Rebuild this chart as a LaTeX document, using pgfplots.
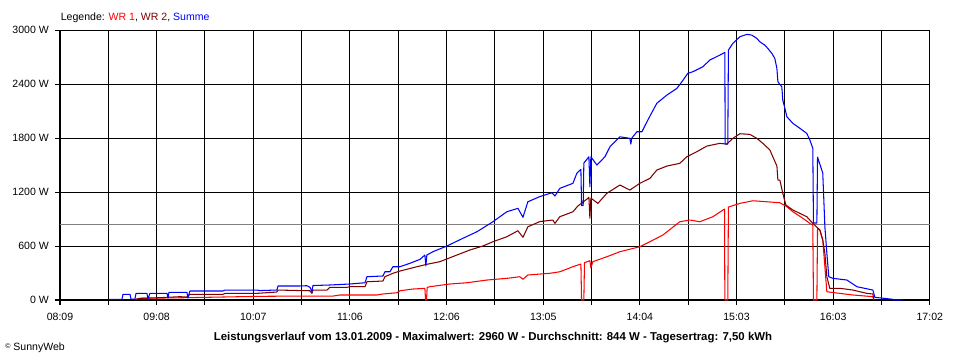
\documentclass[border=0pt]{standalone}
\usepackage{fontspec}
\setmainfont{Liberation Sans}
\usepackage{pgfplots}
\pgfplotsset{compat=1.18}
\definecolor{wrdark}{RGB}{128,0,0}
\definecolor{wrred}{RGB}{255,0,0}
\definecolor{wrblue}{RGB}{0,0,255}
\definecolor{avggray}{RGB}{128,128,128}
\begin{document}
\begin{tikzpicture}[x=0.02cm,y=0.02cm]
\path[use as bounding box] (0,0) rectangle (960,360);
\begin{axis}[
  at={(1.2cm,1.2cm)}, anchor=south west,
  scale only axis, width=17.4cm, height=5.4cm,
  xmin=0, xmax=533, ymin=0, ymax=3000,
  xtick={0,29.61,59.22,88.83,118.44,148.06,177.67,207.28,236.89,266.5,296.11,325.72,355.33,384.94,414.56,444.17,473.78,503.39,533},
  xticklabels={08:09,,09:08,,10:07,,11:06,,12:06,,13:05,,14:04,,15:03,,16:03,,17:02},
  ytick={0,600,1200,1800,2400,3000},
  yticklabels={0 W,600 W,1200 W,1800 W,2400 W,3000 W},
  tick align=outside, xtick pos=bottom, ytick pos=left,
  major tick length=0.1cm,
  tick style={black, line width=0.6pt},
  grid=major, grid style={black, line width=0.6pt},
  axis line style={black, line width=0.6pt},
  tick label style={font=\fontsize{6}{7}\selectfont},
  xticklabel style={yshift=-1pt},
  every axis plot/.append style={line width=0.6pt, no marks, line join=round},
]
\addplot[avggray] coordinates {(0,844) (533,844)};
% WR 1
\addplot[wrred] coordinates {
(45.9,5) (49.0,19) (77.8,26) (122.5,41) (147.0,44) (167.3,44) (171.5,56) (194.2,56)
(197.9,67) (206.5,81) (208.3,103) (216.3,122) (223.6,130) (224.0,0) (224.6,0) (225.0,140)
(226.7,148) (238.9,178) (249.3,192) (261.6,222) (273.8,241) (281.8,259) (283.7,230) (286.7,278)
(300.2,297) (306.3,314) (314.3,370) (319.2,400) (319.6,0) (321.0,0) (321.4,415) (324.7,437)
(325.3,356) (326.5,426) (335.1,481) (343.1,537) (355.3,592) (361.5,648) (369.4,722) (379.8,870)
(386.0,889) (392.1,870) (400.1,926) (406.2,1000) (407.2,1010) (407.4,0) (409.2,0) (409.6,1033)
(416.6,1074) (424.6,1103) (433.1,1092) (441.1,1081) (445.4,1037) (449.1,981) (455.2,908)
(459.5,852) (461.3,833) (461.7,0) (463.8,0) (464.2,800) (465.6,778) (467.4,667) (468.7,370)
(469.9,92) (477.9,74) (485.8,56) (498.1,37) (498.7,0)
};
% WR 2
\addplot[wrdark] coordinates {
(45.9,5) (49.0,19) (61.3,26) (73.5,37) (77.8,33) (79.6,63) (99.9,63) (101.1,74) (120.7,74)
(132.9,89) (133.6,111) (147.0,105) (153.2,103) (154.4,74) (155.0,111) (163.6,111) (165.4,141)
(175.8,141) (177.7,148) (186.9,148) (188.1,203) (197.9,211) (199.1,259) (204.0,297) (208.3,322)
(218.7,370) (224.8,397) (232.8,426) (243.2,500) (251.2,556) (259.1,600) (265.3,648) (273.8,703)
(280.6,770) (283.7,697) (286.7,814) (294.1,872) (302.0,889) (303.3,852) (306.3,926) (314.3,981)
(317.3,1044) (323.5,1130) (324.1,1144) (324.7,908) (325.3,1133) (329.6,1074) (335.1,1186)
(343.1,1278) (349.2,1222) (355.3,1297) (361.5,1352) (365.7,1444) (371.9,1489) (379.8,1519)
(384.1,1592) (390.2,1648) (396.4,1711) (404.3,1741) (408.6,1733) (412.3,1797) (416.6,1848)
(422.7,1841) (427.0,1797) (430.7,1741) (435.0,1667) (436.8,1592) (439.3,1489) (439.9,1333)
(441.1,1333) (442.9,1186) (444.8,1056) (449.1,1000) (457.6,926) (461.3,852) (465.6,778)
(467.4,667) (468.7,519) (469.9,259) (471.7,130) (477.9,130) (485.8,111) (494.4,74) (498.1,67)
(498.7,5)
};
% Summe
\addplot[wrblue] coordinates {
(30.0,8) (38.0,8) (38.6,63) (42.9,63) (43.5,11) (45.9,11) (46.6,74) (53.3,74) (53.9,11)
(55.1,74) (65.6,74) (66.2,22) (66.8,86) (77.8,86) (78.4,22) (79.6,100) (99.9,100) (101.1,111)
(120.7,111) (122.5,105) (132.9,111) (133.6,156) (147.0,156) (151.3,159) (153.2,141) (154.4,92)
(155.0,161) (165.4,167) (177.7,178) (186.9,192) (188.1,259) (197.9,267) (199.1,314) (202.2,314)
(204.0,370) (208.3,370) (214.4,408) (220.6,452) (223.6,500) (224.2,378) (224.8,500) (228.5,537)
(237.1,600) (246.9,686) (255.5,759) (265.3,870) (273.8,981) (280.6,1019) (283.7,919) (286.7,1092)
(294.1,1150) (301.4,1192) (303.3,1156) (306.3,1241) (314.3,1297) (316.7,1408) (319.2,1452)
(319.6,1050) (320.6,1050) (321.0,1522) (324.1,1592) (324.7,1259) (325.3,1592) (329.0,1500)
(332.0,1556) (333.9,1592) (337.0,1703) (343.1,1814) (349.2,1797) (349.8,1733) (350.4,1800)
(353.5,1870) (356.6,1870) (360.2,2000) (365.7,2186) (371.9,2278) (378.0,2352) (381.1,2426)
(384.7,2519) (387.8,2537) (393.9,2592) (398.2,2667) (404.3,2722) (407.4,2752) (407.6,1733)
(409.2,1733) (409.6,2778) (412.3,2852) (416.6,2926) (420.9,2952) (423.9,2944) (427.0,2908)
(428.8,2870) (431.9,2833) (433.7,2797) (436.2,2741) (438.0,2686) (439.3,2574) (439.9,2426)
(442.3,2370) (442.9,2222) (444.2,2130) (445.4,2037) (449.1,1963) (453.4,1908) (457.6,1852)
(459.5,1778) (461.3,1686) (461.7,856) (463.8,856) (464.2,1589) (467.4,1411) (468.7,814)
(469.9,522) (471.1,259) (473.6,241) (482.2,222) (488.3,148) (498.1,111) (499.3,30) (510.3,8)
(510.9,0) (515.0,0) (515.8,8) (516.4,0)
};
\end{axis}
\node[anchor=base west, inner sep=0pt, font=\fontsize{6}{7}\selectfont] at (60.5,339.3)
  {Legende: \textcolor{wrred}{WR 1}, \textcolor{wrdark}{WR 2}, \textcolor{wrblue}{Summe}};
\node[anchor=base, inner sep=0pt, font=\fontsize{6.5}{8}\selectfont\bfseries] at (493,19.3)
  {Leistungsverlauf vom 13.01.2009 - Maximalwert: 2960 W - Durchschnitt: 844 W - Tagesertrag: 7,50 kWh};
\node[anchor=base west, inner sep=0pt, font=\fontsize{6}{7}\selectfont] at (5,10)
  {\raisebox{0.35ex}{\fontsize{4}{4}\selectfont ©} SunnyWeb};
\end{tikzpicture}
\end{document}
